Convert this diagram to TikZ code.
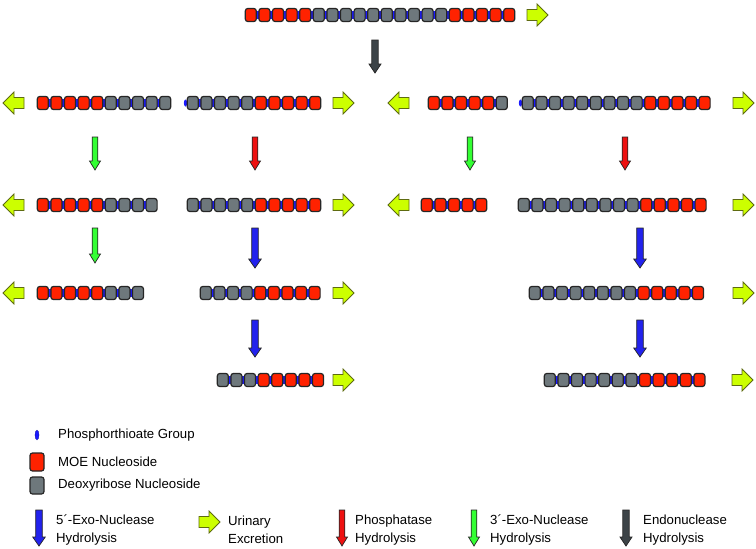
\documentclass[tikz,border=0pt]{standalone}
\usepackage{fontspec}
\setmainfont{Liberation Sans}
\definecolor{moered}{HTML}{FF2200}
\definecolor{deoxygray}{HTML}{6E787C}
\definecolor{beadline}{HTML}{262626}
\definecolor{linkblue}{HTML}{1A1AFF}
\definecolor{urinefill}{HTML}{CCFF00}
\definecolor{urineline}{HTML}{5E6B10}
\definecolor{exogreen}{HTML}{33FF33}
\definecolor{phosred}{HTML}{EE1111}
\definecolor{exoblue}{HTML}{2222EE}
\definecolor{endodark}{HTML}{3C4347}
\tikzset{
  beadbox/.style={draw=beadline,line width=1.2pt,rounded corners=2.5pt},
  mo/.style={beadbox,fill=moered},
  dx/.style={beadbox,fill=deoxygray},
  urinary/.style={fill=urinefill,draw=urineline,line width=0.8pt,line join=miter},
  enzarrow/.style={draw=beadline,line width=0.7pt,line join=miter},
  legtext/.style={anchor=west,font=\fontsize{13.2}{18}\selectfont,align=left,inner sep=0pt}
}
% strand: x0, y, n, list
\newcommand{\beadstrand}[4]{%
  \fill[linkblue] (#1+2,#2-3.8) rectangle (#1+#3*13.6-4.1,#2+3.8);
  \foreach \s [count=\i from 0] in {#4} {
    \path[\s] (#1+\i*13.6+0.3,#2-6.5) rectangle ++(11,13);
  }
}
\newcommand{\uright}[2]{%
  \path[urinary] (#1,#2-5.5) -- (#1+10,#2-5.5) -- (#1+10,#2-11) -- (#1+21,#2) -- (#1+10,#2+11) -- (#1+10,#2+5.5) -- (#1,#2+5.5) -- cycle;}
\newcommand{\uleft}[2]{%
  \path[urinary] (#1+21,#2-5.5) -- (#1+11,#2-5.5) -- (#1+11,#2-11) -- (#1,#2) -- (#1+11,#2+11) -- (#1+11,#2+5.5) -- (#1+21,#2+5.5) -- cycle;}
% down arrow: x, ytop, ybot, colour, shaft half width, head half width
\newcommand{\darrowgen}[6]{%
  \path[enzarrow,fill=#4] (#1-#5,#2) -- (#1+#5,#2) -- (#1+#5,#3-9) -- (#1+#6,#3-9) -- (#1,#3) -- (#1-#6,#3-9) -- (#1-#5,#3-9) -- cycle;}
\newcommand{\darrow}[4]{\darrowgen{#1}{#2}{#3}{#4}{2.8}{5.5}}
\newcommand{\bluearrow}[3]{\darrowgen{#1}{#2}{#3}{exoblue}{3.3}{6.3}}
\begin{document}
\begin{tikzpicture}[x=1pt,y=-1pt]
\useasboundingbox (0,0) rectangle (756,549);
\fill[white] (0,0) rectangle (756,549);

% top strand
\beadstrand{245}{15}{20}{mo,mo,mo,mo,mo,dx,dx,dx,dx,dx,dx,dx,dx,dx,dx,mo,mo,mo,mo,mo}
\uright{527}{15}
\darrowgen{375}{40}{73}{endodark}{3.2}{6}

% row 2
\uleft{3}{103}
\beadstrand{37}{103}{10}{mo,mo,mo,mo,mo,dx,dx,dx,dx,dx}
\fill[linkblue] (185.5,103) ellipse (1.6 and 3.5);
\beadstrand{187}{103}{10}{dx,dx,dx,dx,dx,mo,mo,mo,mo,mo}
\uright{333}{103}
\uleft{388}{103}
\beadstrand{428}{103}{6}{mo,mo,mo,mo,mo,dx}
\fill[linkblue] (520.5,103) ellipse (1.6 and 3.5);
\beadstrand{522}{103}{14}{dx,dx,dx,dx,dx,dx,dx,dx,dx,mo,mo,mo,mo,mo}
\uright{733}{103}

\darrow{95}{137}{170}{exogreen}
\darrow{255}{137}{170}{phosred}
\darrow{470}{137}{170}{exogreen}
\darrow{625}{137}{170}{phosred}

% row 3
\uleft{3}{205}
\beadstrand{37}{205}{9}{mo,mo,mo,mo,mo,dx,dx,dx,dx}
\beadstrand{187}{205}{10}{dx,dx,dx,dx,dx,mo,mo,mo,mo,mo}
\uright{333}{205}
\uleft{388}{205}
\beadstrand{421}{205}{5}{mo,mo,mo,mo,mo}
\beadstrand{518}{205}{14}{dx,dx,dx,dx,dx,dx,dx,dx,dx,mo,mo,mo,mo,mo}
\uright{733}{205}

\darrow{95}{228}{263}{exogreen}
\bluearrow{255}{228}{268}
\bluearrow{640}{228}{268}

% row 4
\uleft{3}{293}
\beadstrand{37}{293}{8}{mo,mo,mo,mo,mo,dx,dx,dx}
\beadstrand{200}{293}{9}{dx,dx,dx,dx,mo,mo,mo,mo,mo}
\uright{333}{293}
\beadstrand{529}{293}{13}{dx,dx,dx,dx,dx,dx,dx,dx,mo,mo,mo,mo,mo}
\uright{733}{293}

\bluearrow{255}{320}{357}
\bluearrow{640}{320}{357}

% row 5
\beadstrand{217}{380}{8}{dx,dx,dx,mo,mo,mo,mo,mo}
\uright{333}{380}
\beadstrand{544}{380}{12}{dx,dx,dx,dx,dx,dx,dx,mo,mo,mo,mo,mo}
\uright{732}{380}

% legend
\filldraw[fill=linkblue,draw=linkblue!60!black,line width=0.3pt] (37,435) ellipse (2 and 5);
\node[legtext] (lphos) at (58,435) {Phosphorthioate Group};
\path[mo] (30,453) rectangle (44,471);
\node[legtext] (lmoe) at (58,462) {MOE Nucleoside};
\path[dx] (30,477) rectangle (44,494);
\node[legtext] (ldeoxy) at (58,485) {Deoxyribose Nucleoside};

\bluearrow{39}{510}{546}
\node[legtext] (lfive) at (56,530) {5´-Exo-Nuclease\\Hydrolysis};
\uright{199}{522}
\node[legtext] (lurine) at (228,530) {Urinary\\Excretion};
\darrow{342}{510}{546}{phosred}
\node[legtext] (lphosph) at (355,530) {Phosphatase\\Hydrolysis};
\darrow{474}{510}{546}{exogreen}
\node[legtext] (lthree) at (490,530) {3´-Exo-Nuclease\\Hydrolysis};
\darrowgen{626}{510}{546}{endodark}{3.2}{6}
\node[legtext] (lendo) at (643,530) {Endonuclease\\Hydrolysis};
\end{tikzpicture}
\end{document}
